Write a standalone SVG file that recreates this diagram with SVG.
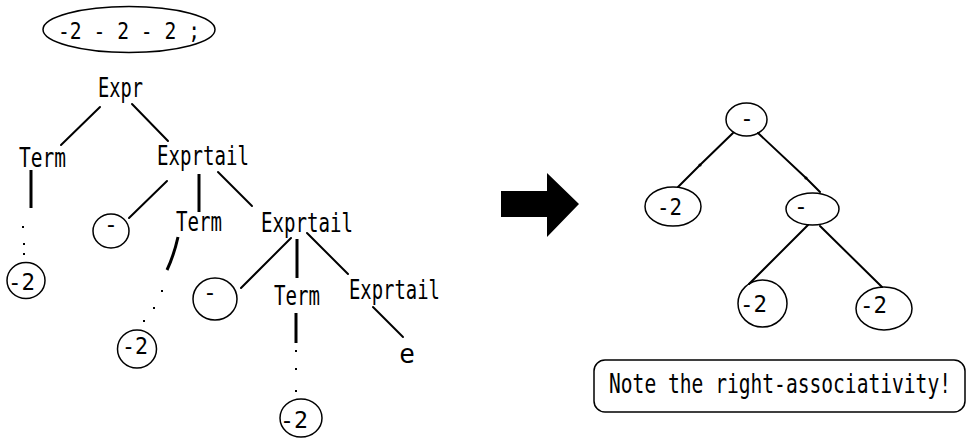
<svg xmlns="http://www.w3.org/2000/svg" width="968" height="440" viewBox="0 0 968 440">
<style>
  text { font-family: "DejaVu Sans Mono", "Liberation Mono", monospace; fill: #000; }
  .w { font-size: 26px; }
  .d { font-size: 23px; }
  .n { fill: none; stroke: #000; stroke-width: 1.5; }
  .e { stroke: #000; stroke-width: 2; fill: none; stroke-linecap: round; }
  .v { stroke: #000; stroke-width: 3; fill: none; }
  .dot { fill: #000; }
</style>
<defs>
  <marker id="tick" markerWidth="4" markerHeight="4" refX="2" refY="2" markerUnits="userSpaceOnUse">
    <circle cx="2" cy="2" r="1.6" fill="#000"/>
  </marker>
</defs>
<rect width="968" height="440" fill="#fff"/>

<g id="input">
  <ellipse class="n" cx="129" cy="29.5" rx="86" ry="23" stroke-width="2"/>
  <text class="d" x="58" y="39" textLength="142" lengthAdjust="spacingAndGlyphs">-2 - 2 - 2 ;</text>
</g>

<g id="connectors">
  <line class="e" x1="100" y1="107" x2="61" y2="145"/>
  <line class="e" x1="132" y1="104" x2="168" y2="141"/>
  <line class="v" x1="31" y1="170" x2="31" y2="208"/>
  <line class="e" x1="167" y1="181" x2="129" y2="218"/>
  <line class="v" x1="199" y1="174" x2="199" y2="212"/>
  <line class="e" x1="218" y1="172" x2="252" y2="206"/>
  <path class="v" d="M178,237 Q174,255 167,270"/>
  <line class="e" x1="291" y1="238" x2="241" y2="288"/>
  <line class="v" x1="297" y1="239" x2="297" y2="278"/>
  <line class="e" x1="307" y1="233" x2="348" y2="274"/>
  <line class="v" x1="296" y1="313" x2="296" y2="343"/>
  <line class="e" x1="373" y1="307" x2="403" y2="337"/>
  <path class="e" d="M733,133 L700,165 L678,187" marker-mid="url(#tick)"/>
  <path class="e" d="M758,133 L806,178 L820,192" marker-mid="url(#tick)"/>
  <line class="e" x1="808" y1="225" x2="749" y2="284"/>
  <line class="e" x1="820" y1="226" x2="882" y2="287"/>
  <g class="dot">
    <rect x="22" y="226" width="2" height="2"/>
    <rect x="23" y="243" width="2" height="2"/>
    <rect x="23" y="253" width="2" height="2"/>
    <rect x="161" y="290" width="2" height="2"/>
    <rect x="153" y="307" width="2" height="2"/>
    <rect x="143" y="320" width="2" height="2"/>
    <rect x="295" y="350" width="2" height="2"/>
    <rect x="295" y="368" width="2" height="2"/>
    <rect x="295" y="390" width="2" height="2"/>
  </g>
</g>

<g id="expr"><text class="w" x="98" y="97" textLength="45" lengthAdjust="spacingAndGlyphs">Expr</text></g>
<g id="term1"><text class="w" x="19" y="167" textLength="47" lengthAdjust="spacingAndGlyphs">Term</text></g>
<g id="exprtail1"><text class="w" x="157" y="165" textLength="92" lengthAdjust="spacingAndGlyphs">Exprtail</text></g>
<g id="num1">
  <ellipse class="n" cx="26" cy="280.5" rx="19" ry="18"/>
  <text class="d" x="8" y="290" textLength="27" lengthAdjust="spacingAndGlyphs">-2</text>
</g>
<g id="minus1">
  <ellipse class="n" cx="111" cy="231" rx="18" ry="17"/>
  <text class="d" x="111" y="232" text-anchor="middle">-</text>
</g>
<g id="term2"><text class="w" x="176" y="231" textLength="46" lengthAdjust="spacingAndGlyphs">Term</text></g>
<g id="exprtail2"><text class="w" x="261" y="232" textLength="92" lengthAdjust="spacingAndGlyphs">Exprtail</text></g>
<g id="num2">
  <ellipse class="n" cx="137" cy="349" rx="19.5" ry="19"/>
  <text class="d" x="122" y="354" textLength="26" lengthAdjust="spacingAndGlyphs">-2</text>
</g>
<g id="minus2">
  <ellipse class="n" cx="215" cy="299" rx="22" ry="21"/>
  <text class="d" x="210" y="300" text-anchor="middle">-</text>
</g>
<g id="term3"><text class="w" x="274" y="305" textLength="46" lengthAdjust="spacingAndGlyphs">Term</text></g>
<g id="exprtail3"><text class="w" x="349" y="299" textLength="91" lengthAdjust="spacingAndGlyphs">Exprtail</text></g>
<g id="eps"><text class="w" x="407" y="363" text-anchor="middle">e</text></g>
<g id="num3">
  <ellipse class="n" cx="301" cy="418" rx="21" ry="19"/>
  <text class="d" x="280" y="428" textLength="28" lengthAdjust="spacingAndGlyphs">-2</text>
</g>

<g id="arrow">
  <polygon points="501,191 547,191 547,173 579,204 547,237 547,217 501,217" fill="#000"/>
</g>

<g id="ast-root">
  <ellipse class="n" cx="746.5" cy="119.5" rx="20.5" ry="16.5"/>
  <text class="d" x="747" y="126" text-anchor="middle">-</text>
</g>
<g id="ast-left">
  <ellipse class="n" cx="673" cy="206.5" rx="28" ry="19.5"/>
  <text class="d" x="657" y="215" textLength="25" lengthAdjust="spacingAndGlyphs">-2</text>
</g>
<g id="ast-right">
  <ellipse class="n" cx="812.5" cy="209" rx="26.5" ry="16"/>
  <text class="d" x="801" y="214" text-anchor="middle">-</text>
</g>
<g id="ast-rl">
  <ellipse class="n" cx="762.5" cy="303.5" rx="24.5" ry="23.5"/>
  <text class="d" x="740" y="312" textLength="27" lengthAdjust="spacingAndGlyphs">-2</text>
</g>
<g id="ast-rr">
  <ellipse class="n" cx="884" cy="308.5" rx="28" ry="21.5"/>
  <text class="d" x="860" y="313" textLength="27" lengthAdjust="spacingAndGlyphs">-2</text>
</g>

<g id="note">
  <rect class="n" x="594" y="360" width="371" height="52" rx="11" ry="11"/>
  <text x="0" y="0" font-size="19.6" transform="translate(609,393) scale(1,1.33)">Note the right-associativity!</text>
</g>
</svg>
